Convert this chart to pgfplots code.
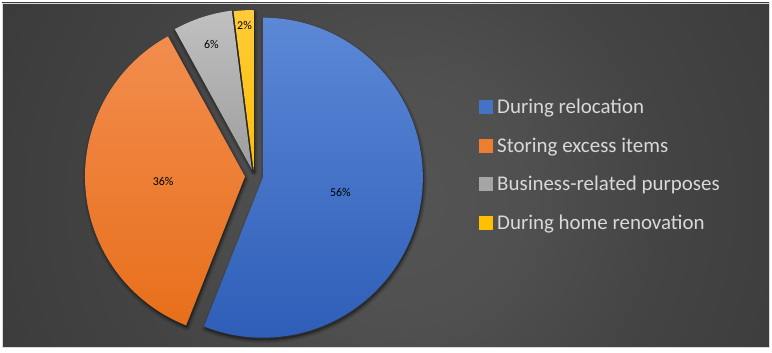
\documentclass[border=0pt]{standalone}
\usepackage{pgfplots}
\pgfplotsset{compat=1.18}
\usepackage{fontspec}
\setmainfont{Carlito}

\definecolor{bluetop}{HTML}{5C88D7}
\definecolor{bluebot}{HTML}{2D5DB7}
\definecolor{blueleg}{HTML}{4472C4}
\definecolor{orangetop}{HTML}{F28D4E}
\definecolor{orangebot}{HTML}{E86F1B}
\definecolor{orangeleg}{HTML}{ED7D31}
\definecolor{graytop}{HTML}{C0C0C0}
\definecolor{graybot}{HTML}{9C9C9C}
\definecolor{grayleg}{HTML}{A5A5A5}
\definecolor{yellowtop}{HTML}{FFCB3A}
\definecolor{yellowbot}{HTML}{FFBE00}
\definecolor{yellowleg}{HTML}{FFC000}
\definecolor{legtext}{HTML}{D9D9D9}
\definecolor{bgA}{HTML}{545454}
\definecolor{bgB}{HTML}{505050}
\definecolor{bgC}{HTML}{444444}
\definecolor{bgD}{HTML}{373737}
\definecolor{bgE}{HTML}{2D2D2D}
\definecolor{bgF}{HTML}{222222}
\definecolor{frame}{HTML}{D9D9D9}

\pgfdeclareradialshading{bgshade}{\pgfpoint{0bp}{0bp}}{color(0bp)=(bgA); color(6.5bp)=(bgB); color(14bp)=(bgC); color(28bp)=(bgD); color(40bp)=(bgE); color(50bp)=(bgF)}

% #1 start pct, #2 pct, #3 explode (bp)
\newcommand\sliceshadow[3]{%
  \draw[black,opacity=0.10,line width=6bp,line join=round,shift={(1bp,-2.5bp)}] (axis cs:254,176) ++({90-(#1+#2/2)*3.6}:#3bp) -- ++({90-#1*3.6}:160bp) arc[start angle={90-#1*3.6}, end angle={90-(#1+#2)*3.6}, radius=160bp] -- cycle;
  \draw[black,opacity=0.15,line width=3bp,line join=round,shift={(1bp,-2.5bp)}] (axis cs:254,176) ++({90-(#1+#2/2)*3.6}:#3bp) -- ++({90-#1*3.6}:160bp) arc[start angle={90-#1*3.6}, end angle={90-(#1+#2)*3.6}, radius=160bp] -- cycle;
  \fill[black,opacity=0.30,shift={(1bp,-2.5bp)}] (axis cs:254,176) ++({90-(#1+#2/2)*3.6}:#3bp) -- ++({90-#1*3.6}:160bp) arc[start angle={90-#1*3.6}, end angle={90-(#1+#2)*3.6}, radius=160bp] -- cycle;
}
% #1 start pct, #2 pct, #3 explode, #4 top colour, #5 bottom colour, #6 label distance, #7 label
\newcommand\slicefill[7]{%
  \shade[top color=#4,bottom color=#5] (axis cs:254,176) ++({90-(#1+#2/2)*3.6}:#3bp) -- ++({90-#1*3.6}:160bp) arc[start angle={90-#1*3.6}, end angle={90-(#1+#2)*3.6}, radius=160bp] -- cycle;
  \path (axis cs:254,176) ++({90-(#1+#2/2)*3.6}:#3bp) ++({90-(#1+#2/2)*3.6}:#6bp) node[font=\fontsize{12}{14}\selectfont,text=black,inner sep=0pt] {#7};
}

\begin{document}
\begin{tikzpicture}
\begin{axis}[x=1bp,y=1bp,xmin=0,xmax=772,ymin=0,ymax=352,hide axis,clip=false]
% background
\fill[white] (axis cs:0,0) rectangle (axis cs:772,352);
\begin{scope}
\clip (axis cs:2,5) rectangle (axis cs:769,349);
\shade[shading=bgshade] (axis cs:400,152) circle[radius=470bp];
\end{scope}
\draw[frame,line width=0.75bp] (axis cs:2,5) rectangle (axis cs:769,349);
% shadows
\sliceshadow{0}{56}{9}
\sliceshadow{56}{36}{9}
\sliceshadow{92}{6}{7}
\sliceshadow{98}{2}{6}
% slices: During relocation 56, Storing excess items 36, Business-related 6, Home renovation 2
\slicefill{0}{56}{9}{bluetop}{bluebot}{79}{56\%}
\slicefill{56}{36}{9}{orangetop}{orangebot}{82}{36\%}
\slicefill{92}{6}{7}{graytop}{graybot}{131}{6\%}
\slicefill{98}{2}{6}{yellowtop}{yellowbot}{145}{2\%}
% legend
\addplot[only marks,color=blueleg,mark=square*,mark size=6.5bp,mark options={fill=blueleg,draw=blueleg,line width=0pt}] coordinates {(486,245.5)};
\addplot[only marks,color=orangeleg,mark=square*,mark size=6.5bp,mark options={fill=orangeleg,draw=orangeleg,line width=0pt}] coordinates {(486,206.5)};
\addplot[only marks,color=grayleg,mark=square*,mark size=6.5bp,mark options={fill=grayleg,draw=grayleg,line width=0pt}] coordinates {(486,168.5)};
\addplot[only marks,color=yellowleg,mark=square*,mark size=6.5bp,mark options={fill=yellowleg,draw=yellowleg,line width=0pt}] coordinates {(486,129.5)};
\node[anchor=base west,inner sep=0pt,text=legtext,font=\fontsize{21}{24}\selectfont] at (axis cs:497,238.8) {During relocation};
\node[anchor=base west,inner sep=0pt,text=legtext,font=\fontsize{21}{24}\selectfont] at (axis cs:497,199.8) {Storing excess items};
\node[anchor=base west,inner sep=0pt,text=legtext,font=\fontsize{21}{24}\selectfont] at (axis cs:497,161.8) {Business-related purposes};
\node[anchor=base west,inner sep=0pt,text=legtext,font=\fontsize{21}{24}\selectfont] at (axis cs:497,122.8) {During home renovation};
\end{axis}
\end{tikzpicture}
\end{document}
